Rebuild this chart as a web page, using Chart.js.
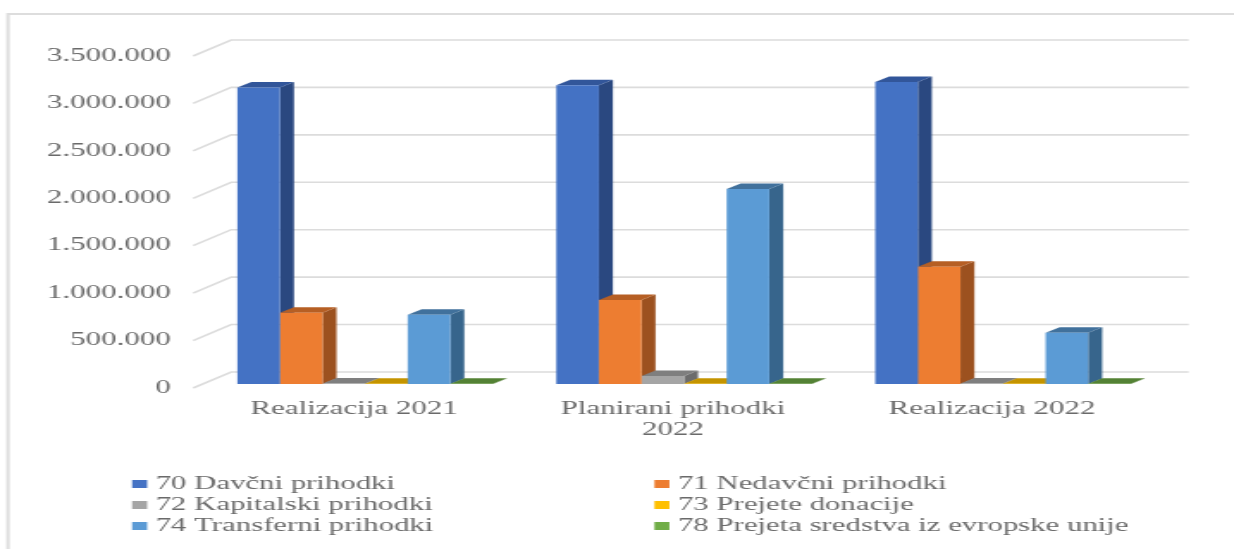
<!DOCTYPE html>
<html>
<head>
<meta charset="utf-8">
<script src="https://cdn.jsdelivr.net/npm/chart.js@4"></script>
<style>
  html, body { margin: 0; padding: 0; background: #fff; overflow: hidden; }
  /* the source picture is a stretched bitmap, so the canvas is stretched the same way */
  #chart { position: absolute; left: 0; top: 0; transform-origin: 0 0; }
</style>
</head>
<body>
<canvas id="chart"></canvas>
<script>
const categories = [['Realizacija 2021'], ['Planirani prihodki', '2022'], ['Realizacija 2022']];
const davcni = [3125000, 3150000, 3185000];
const nedavcni = [750000, 885000, 1235000];
const kapitalski = [6000, 85000, 6000];
const donacije = [3000, 3000, 3000];
const transferni = [730000, 2055000, 540000];
const evropska = [3000, 3000, 3000];
const yTicks = [0, 500000, 1000000, 1500000, 2000000, 2500000, 3000000, 3500000];

const SX = 1.72;
const W = 1234, H = 549;
const px = v => v / SX;

const FONT = '"Liberation Serif", serif';
const TEXT = '#6a6a6a';
const GRID = '#dcdcdc';

const seriesDefs = [
  { label: '70 Davčni prihodki', data: davcni, front: '#4472C4', side: '#2A4880', top: '#32569A' },
  { label: '71 Nedavčni prihodki', data: nedavcni, front: '#ED7D31', side: '#9C511F', top: '#B65F24' },
  { label: '72 Kapitalski prihodki', data: kapitalski, front: '#A5A5A5', side: '#6C6C6C', top: '#7F7F7F' },
  { label: '73 Prejete donacije', data: donacije, front: '#FFC000', side: '#A67D00', top: '#C49400' },
  { label: '74 Transferni prihodki', data: transferni, front: '#5B9BD5', side: '#37658C', top: '#41719C' },
  { label: '78 Prejeta sredstva iz evropske unije', data: evropska, front: '#70AD47', side: '#48702E', top: '#548235' },
];

const DEPTH_X = 14, DEPTH_Y = 5.5;

const frame = {
  id: 'frame',
  beforeDraw(chart) {
    const c = chart.ctx;
    c.save();
    c.strokeStyle = '#dddddd';
    c.lineWidth = 2;
    c.beginPath();
    c.moveTo(px(8), H);
    c.lineTo(px(8), 14);
    c.lineTo(W, 14);
    c.stroke();
    c.restore();
  },
};

// back wall and side wall of the 3D plot, then side and top faces of the bars.
// The library paints the front faces afterwards, on top of all of these.
const walls = {
  id: 'walls',
  beforeDatasetsDraw(chart) {
    const c = chart.ctx, s = chart.scales.y;
    c.save();
    c.strokeStyle = GRID;
    c.lineWidth = 1.6;
    yTicks.forEach(v => {
      const y = s.getPixelForValue(v);
      c.beginPath();
      c.moveTo(px(193), y);
      c.lineTo(px(231), y - 16);
      c.lineTo(px(1188), y - 16);
      c.stroke();
    });

    const dx = px(DEPTH_X), dy = DEPTH_Y;
    seriesDefs.forEach((def, i) => {
      chart.getDatasetMeta(i).data.forEach(bar => {
        const l = bar.x - bar.width / 2, r = bar.x + bar.width / 2;
        c.fillStyle = def.side;
        c.beginPath();
        c.moveTo(r, bar.base);
        c.lineTo(r + dx, bar.base - dy);
        c.lineTo(r + dx, bar.y - dy);
        c.lineTo(r, bar.y);
        c.fill();
        c.fillStyle = def.top;
        c.beginPath();
        c.moveTo(l, bar.y);
        c.lineTo(l + dx, bar.y - dy);
        c.lineTo(r + dx, bar.y - dy);
        c.lineTo(r, bar.y);
        c.fill();
      });
    });
    c.restore();
  },
};

// two column legend
const legend2col = {
  id: 'legend2col',
  afterDraw(chart) {
    const c = chart.ctx;
    const colX = [132, 654], rowY = [484, 505, 526];
    c.save();
    c.font = '17.9px ' + FONT;
    c.textBaseline = 'middle';
    chart.data.datasets.forEach((d, i) => {
      const x = colX[i % 2], y = rowY[Math.floor(i / 2)];
      c.fillStyle = d.backgroundColor;
      c.fillRect(px(x), y - 4, px(15), 8);
      c.fillStyle = TEXT;
      c.fillText(d.label, px(x + 23.5), y);
    });
    c.restore();
  },
};

const canvas = document.getElementById('chart');
canvas.width = Math.round(W / SX);
canvas.height = H;
canvas.style.transform = 'scaleX(' + (W / canvas.width) + ')';

new Chart(canvas, {
  type: 'bar',
  data: {
    labels: categories,
    datasets: seriesDefs.map(d => ({
      label: d.label,
      data: d.data,
      backgroundColor: d.front,
      yAxisID: 'bars',
    })),
  },
  options: {
    responsive: false,
    animation: false,
    devicePixelRatio: 1,
    layout: { padding: { left: 0, right: px(W - 1162.5), top: 51.5, bottom: 0 } },
    plugins: { legend: { display: false }, tooltip: { enabled: false }, title: { display: false } },
    scales: {
      x: {
        grid: { display: false },
        border: { display: false },
        afterFit(s) { s.height = H - 388; },
        ticks: {
          color: TEXT,
          font: { family: FONT, size: 18 },
          padding: 2,
          labelOffset: px(-11),
          maxRotation: 0,
          autoSkip: false,
        },
      },
      // drawn axis with the labels, in the front plane of the 3D box
      y: {
        position: 'left',
        min: 0,
        max: 3500000 + 4.5 * 500000 / 47.5,
        grid: { display: false },
        border: { display: false },
        afterFit(s) { s.width = px(205.5); },
        afterBuildTicks(s) { s.ticks = yTicks.map(value => ({ value })); },
        ticks: {
          color: TEXT,
          font: { family: FONT, size: 18 },
          padding: px(21),
          callback: v => v.toLocaleString('de-DE'),
        },
      },
      // hidden scale of the bars, whose floor sits 4px above the front plane
      bars: {
        display: false,
        min: -4 * 500000 / 47.5,
        max: 3500000 + 0.5 * 500000 / 47.5,
      },
    },
    datasets: { bar: { barPercentage: 1, categoryPercentage: 255.6 / 319 } },
  },
  plugins: [frame, walls, legend2col],
});
</script>
</body>
</html>
